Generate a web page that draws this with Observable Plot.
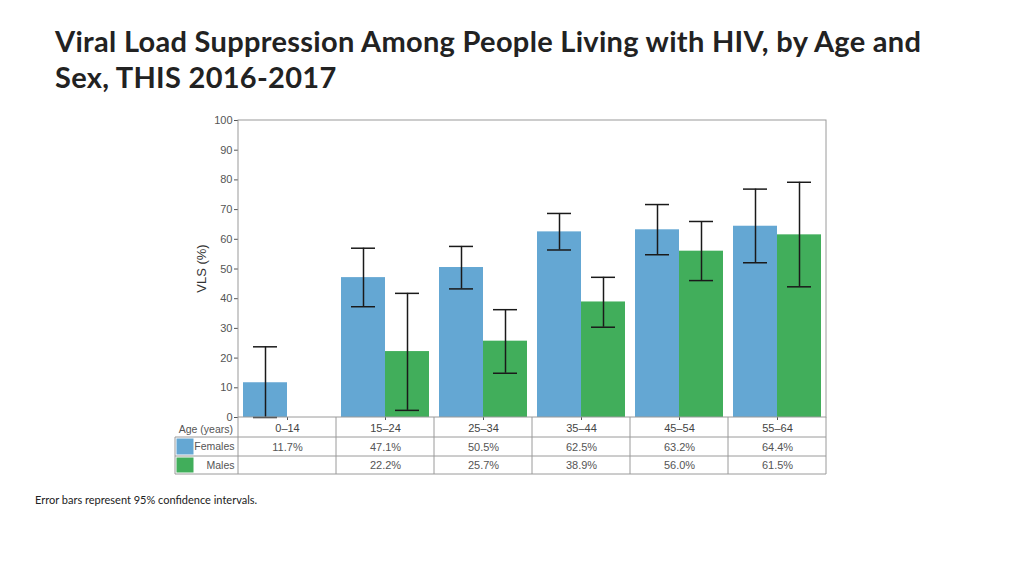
<!DOCTYPE html>
<html><head><meta charset="utf-8">
<script src="https://cdn.jsdelivr.net/npm/d3@7"></script>
<script src="https://cdn.jsdelivr.net/npm/@observablehq/plot@0.6"></script>
<style>
body{margin:0;width:1024px;height:576px;position:relative;background:#fff;overflow:hidden}
#chart{position:absolute;left:0;top:0}
#title{position:absolute;left:55px;top:23px;font-family:Lato,sans-serif;font-weight:700;font-size:29px;letter-spacing:0.3px;line-height:36px;color:#222;white-space:nowrap}
#caption{position:absolute;left:35px;top:493px;font-family:Lato,sans-serif;font-size:11px;color:#222;white-space:nowrap}
</style></head><body>
<div id="chart"></div>
<div id="title">Viral Load Suppression Among People Living with HIV, by Age and<br>Sex, THIS 2016-2017</div>
<div id="caption">Error bars represent 95% confidence intervals.</div>
<script>
const ages = ["0–14","15–24","25–34","35–44","45–54","55–64"];
const sexes = ["Females","Males"];
const femaleVLS = [11.7, 47.1, 50.5, 62.5, 63.2, 64.4];
const maleVLS   = [null, 22.2, 25.7, 38.9, 56.0, 61.5];
const femaleLow  = [0.0, 37.3, 43.3, 56.4, 54.8, 52.1];
const femaleHigh = [23.8, 57.0, 57.6, 68.7, 71.7, 76.9];
const maleLow    = [null, 2.4, 14.9, 30.4, 46.1, 44.0];
const maleHigh   = [null, 41.8, 36.3, 47.2, 66.0, 79.2];
const yTicks = [0,10,20,30,40,50,60,70,80,90,100];
const yLabel = "VLS (%)";
const rowHeader = "Age (years)";

const BLUE = "#64a7d3", GREEN = "#41ae5b", LINE = "#9a9a9a", TXT = "#555";

const rows = [];
ages.forEach((a,i)=>{
  rows.push({age:a, sex:"Females", value:femaleVLS[i], lo:femaleLow[i], hi:femaleHigh[i]});
  rows.push({age:a, sex:"Males", value:maleVLS[i], lo:maleLow[i], hi:maleHigh[i]});
});
const valid = rows.filter(d=>d.value!=null);
const fmt = v => v==null ? "" : v.toFixed(1)+"%";

const plot = Plot.plot({
  width:1024, height:480,
  marginLeft:237, marginRight:197, marginTop:120, marginBottom:63,
  style:{fontFamily:"'Liberation Sans', Arial, sans-serif", fontSize:"11px", color:TXT, background:"transparent", overflow:"visible"},
  fx:{domain:ages, padding:0, label:null, axis:null},
  x:{domain:sexes, paddingInner:0, paddingOuter:0.11, axis:null},
  y:{domain:[0,100], axis:null},
  color:{domain:sexes, range:[BLUE, GREEN]},
  marks:[
    Plot.barY(valid,{fx:"age", x:"sex", y:"value", fill:"sex"}),
    Plot.ruleX(valid,{fx:"age", x:"sex", y1:"lo", y2:"hi", stroke:"#1a1a1a", strokeWidth:1.5}),
    Plot.tickY(valid,{fx:"age", x:"sex", y:"lo", insetLeft:10, insetRight:10, stroke:"#1a1a1a", strokeWidth:1.5}),
    Plot.tickY(valid,{fx:"age", x:"sex", y:"hi", insetLeft:10, insetRight:10, stroke:"#1a1a1a", strokeWidth:1.5}),
    Plot.axisY({ticks:yTicks, tickSize:4, tickPadding:2, label:null, stroke:"#555", fill:TXT, fontSize:11}),
    Plot.axisFx({anchor:"bottom", tickSize:3, tickPadding:4, label:null, stroke:"#555", fill:"#444", fontSize:11}),
    Plot.text(ages.map((a,i)=>({age:a, t:fmt(femaleVLS[i])})),{fx:"age", text:"t", frameAnchor:"bottom", dy:33, fill:TXT, fontSize:11}),
    Plot.text(ages.map((a,i)=>({age:a, t:fmt(maleVLS[i])})),{fx:"age", text:"t", frameAnchor:"bottom", dy:51, fill:TXT, fontSize:11})
  ]
});
document.getElementById("chart").appendChild(plot);

// frame, table grid, legend swatches using the plot's scales
const fx = plot.scale("fx"), y = plot.scale("y");
const L = fx.apply(ages[0]), R = fx.apply(ages[ages.length-1]) + fx.bandwidth;
const yTop = y.apply(100), yBot = y.apply(0);
const tL = 175, r1 = yBot + 20, r2 = r1 + 19, r3 = r2 + 18;
const svg = d3.select(plot);
const g = svg.append("g").attr("fill","none").attr("stroke",LINE).attr("stroke-width",1);
g.append("rect").attr("x",L).attr("y",yTop).attr("width",R-L).attr("height",yBot-yTop);
[r1,r2,r3].forEach(yy=>g.append("line").attr("x1",tL).attr("x2",R).attr("y1",yy).attr("y2",yy));
g.append("line").attr("x1",tL).attr("x2",tL).attr("y1",r1).attr("y2",r3);
ages.slice(1).forEach(a=>{const xx=fx.apply(a); g.append("line").attr("x1",xx).attr("x2",xx).attr("y1",yBot).attr("y2",r3);});
[L,R].forEach(xx=>g.append("line").attr("x1",xx).attr("x2",xx).attr("y1",yBot).attr("y2",r3));

const t = svg.append("g").attr("font-family","'Liberation Sans', Arial, sans-serif").attr("fill",TXT);
t.append("text").attr("x",L-5).attr("y",yBot+12).attr("dy","0.35em").attr("text-anchor","end").attr("font-size",10.5).text(rowHeader);
sexes.forEach((s,i)=>{
  const top = i===0 ? r1 : r2, bot = i===0 ? r2 : r3;
  svg.append("rect").attr("x",tL+1.5).attr("y",top+1.5).attr("width",17).attr("height",bot-top-3).attr("fill",i===0?BLUE:GREEN);
  t.append("text").attr("x",L-3.5).attr("y",(top+bot)/2).attr("dy","0.35em").attr("text-anchor","end").attr("font-size",10.5).text(s);
});
t.append("text").attr("transform",`translate(${201},${(yTop+yBot)/2}) rotate(-90)`).attr("dy","0.35em").attr("text-anchor","middle").attr("font-size",13).attr("fill","#333").text(yLabel);
</script>
</body></html>
